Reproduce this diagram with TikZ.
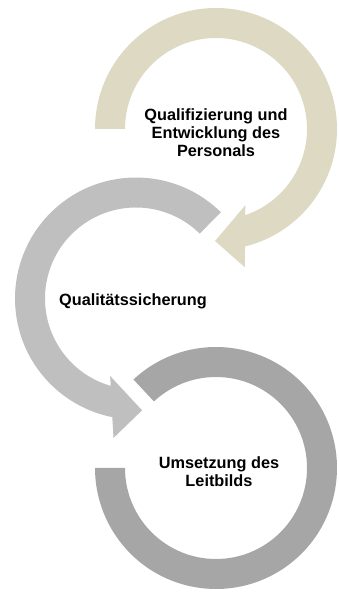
\documentclass[tikz,border=0pt]{standalone}
\usepackage{fontspec}
\setmainfont{Liberation Sans}
\definecolor{ringtan}{HTML}{DDD9C3}
\definecolor{ringgray}{HTML}{BFBFBF}
\definecolor{ringdark}{HTML}{A6A6A6}
\begin{document}
\begin{tikzpicture}[x=1pt,y=1pt,
  label/.style={align=center,inner sep=0pt,font=\fontsize{16.3}{17.7}\selectfont\bfseries,text=black}]
\useasboundingbox (0,0) rectangle (338,594);

% top ring: clockwise from the left, arrow head pointing down-left
\begin{scope}[shift={(216,465)},rotate=-90.5]
  \fill[ringtan] (270.5:121pt) arc[start angle=270.5,end angle=14.4,radius=121pt]
    -- (138pt,30pt) -- (112pt,0pt) -- (76pt,30pt)
    -- (19.2:91pt) arc[start angle=19.2,end angle=270.5,radius=91pt] -- cycle;
\end{scope}

% middle ring: counter-clockwise from the upper right, arrow head pointing right
\begin{scope}[shift={(136,295.5)},rotate=273.1]
  \fill[ringgray] (132.4:121pt) arc[start angle=132.4,end angle=345.6,radius=121pt]
    -- (138pt,-30pt) -- (112pt,0pt) -- (76pt,-30pt)
    -- (340.8:91pt) arc[start angle=340.8,end angle=132.4,radius=91pt] -- cycle;
\end{scope}

% bottom ring: clockwise from the upper left, open end on the left
\begin{scope}[shift={(216,126)}]
  \fill[ringdark] (133:121pt) arc[start angle=133,end angle=-180,radius=121pt]
    -- (-180:91pt) arc[start angle=-180,end angle=133,radius=91pt] -- cycle;
\end{scope}

\node[label] (quali) at (216,461.5) {Qualifizierung und\\Entwicklung des\\Personals};
\node[label] (sicher) at (133,292.5) {Qualitätssicherung};
\node[label] (leitbild) at (219,122.3) {Umsetzung des\\Leitbilds};
\end{tikzpicture}
\end{document}
